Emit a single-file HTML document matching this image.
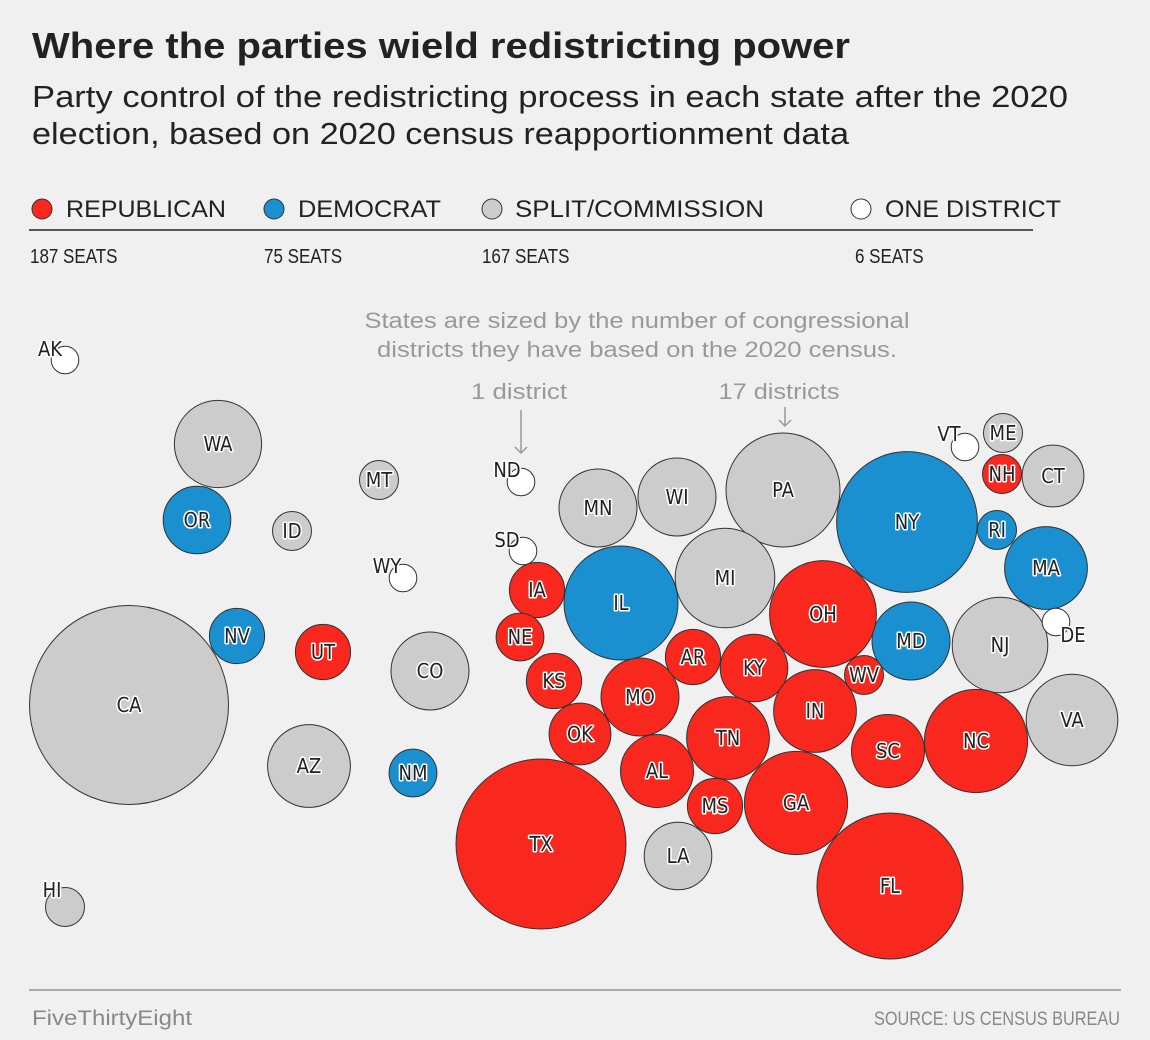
<!DOCTYPE html>
<html><head><style>
body{margin:0;background:#f0f0f0;width:1150px;height:1040px;overflow:hidden;font-family:"Liberation Sans",sans-serif;}
</style></head><body>
<svg width="1150" height="1040" xmlns="http://www.w3.org/2000/svg" style="position:absolute;left:0;top:0">
<rect width="1150" height="1040" fill="#f0f0f0"/>
<text x="32" y="58" font-size="36" font-weight="bold" fill="#222" textLength="818" lengthAdjust="spacingAndGlyphs">Where the parties wield redistricting power</text>
<text x="32" y="107" font-size="31" fill="#222" textLength="1036" lengthAdjust="spacingAndGlyphs">Party control of the redistricting process in each state after the 2020</text>
<text x="32" y="144" font-size="31" fill="#222" textLength="817" lengthAdjust="spacingAndGlyphs">election, based on 2020 census reapportionment data</text>
<g font-size="24" fill="#222">
<circle cx="42" cy="209" r="10" fill="#f9281f" stroke="#333"/><text x="66" y="217" textLength="160" lengthAdjust="spacingAndGlyphs">REPUBLICAN</text>
<circle cx="274" cy="209" r="10" fill="#1a90d0" stroke="#333"/><text x="298" y="217" textLength="143" lengthAdjust="spacingAndGlyphs">DEMOCRAT</text>
<circle cx="492" cy="209" r="10" fill="#cccccc" stroke="#333"/><text x="515" y="217" textLength="249" lengthAdjust="spacingAndGlyphs">SPLIT/COMMISSION</text>
<circle cx="861" cy="209" r="10" fill="#fff" stroke="#333"/><text x="885" y="217" textLength="176" lengthAdjust="spacingAndGlyphs">ONE DISTRICT</text>
</g>
<line x1="29" y1="230" x2="1033" y2="230" stroke="#222" stroke-width="1.5"/>
<g font-size="20" fill="#222" transform="scale(0.85,1)">
<text x="35.3" y="263">187 SEATS</text><text x="310.6" y="263">75 SEATS</text><text x="567" y="263">167 SEATS</text><text x="1005.9" y="263">6 SEATS</text>
</g>
<g font-size="22" fill="#999" text-anchor="middle">
<text x="637" y="328" textLength="545" lengthAdjust="spacingAndGlyphs">States are sized by the number of congressional</text>
<text x="637" y="357" textLength="520" lengthAdjust="spacingAndGlyphs">districts they have based on the 2020 census.</text>
<text x="519" y="399" textLength="96" lengthAdjust="spacingAndGlyphs">1 district</text>
<text x="779" y="399" textLength="121" lengthAdjust="spacingAndGlyphs">17 districts</text>
</g>
<g stroke="#999" stroke-width="1.5" fill="none">
<path d="M521 410V453M515 447l6 6 6-6"/><path d="M785 407V426M779 420l6 6 6-6"/>
</g>
<g stroke="#333" stroke-width="1">
<g fill="#cccccc">
<circle cx="218" cy="444" r="43.6"/><circle cx="292" cy="531" r="19.5"/><circle cx="379" cy="480" r="19.5"/>
<circle cx="129" cy="705" r="99.5"/><circle cx="430" cy="671" r="39"/><circle cx="309" cy="766" r="41.4"/>
<circle cx="65" cy="907" r="19.5"/><circle cx="598" cy="508" r="39"/><circle cx="677" cy="497" r="39"/>
<circle cx="783" cy="490" r="57"/><circle cx="1003" cy="433" r="19.5"/><circle cx="1053" cy="476" r="30.9"/>
<circle cx="1000" cy="645" r="47.8"/><circle cx="1072" cy="720" r="45.8"/><circle cx="725" cy="578" r="49.8"/>
<circle cx="678" cy="856" r="33.8"/>
</g>
<g fill="#1a90d0">
<circle cx="197" cy="520" r="33.8"/><circle cx="237" cy="636" r="27.6"/><circle cx="413" cy="773" r="23.9"/>
<circle cx="907" cy="522" r="70.4"/><circle cx="997" cy="530" r="19.5"/><circle cx="1046" cy="568" r="41.4"/>
<circle cx="911" cy="641" r="39"/><circle cx="621" cy="603" r="57"/>
</g>
<g fill="#f9281f">
<circle cx="323" cy="652" r="27.6"/><circle cx="1002" cy="474" r="19.5"/><circle cx="864" cy="675" r="19.5"/>
<circle cx="823" cy="614" r="53.4"/><circle cx="537" cy="590" r="27.6"/><circle cx="520" cy="637" r="23.9"/>
<circle cx="554" cy="681" r="27.6"/><circle cx="640" cy="697" r="39"/><circle cx="693" cy="657" r="27.6"/>
<circle cx="754" cy="668" r="33.8"/><circle cx="815" cy="711" r="41.4"/><circle cx="580" cy="734" r="30.9"/>
<circle cx="728" cy="738" r="41.4"/><circle cx="657" cy="771" r="36.5"/><circle cx="715" cy="806" r="27.6"/>
<circle cx="796" cy="803" r="51.6"/><circle cx="888" cy="751" r="36.5"/><circle cx="976" cy="741" r="51.6"/>
<circle cx="890" cy="886" r="73"/><circle cx="541" cy="844" r="85"/>
</g>
<g fill="#fff">
<circle cx="65" cy="360" r="13.8"/><circle cx="403" cy="578" r="13.8"/><circle cx="521" cy="482" r="13.8"/>
<circle cx="523" cy="551" r="13.8"/><circle cx="965" cy="447" r="13.8"/><circle cx="1056" cy="622" r="13.8"/>
</g>
</g>
<g font-size="20" fill="#222" text-anchor="middle" stroke="#fff" stroke-width="3" paint-order="stroke" stroke-linejoin="round" font-family="'DejaVu Sans Condensed','Liberation Sans',sans-serif">
<text x="50" y="356">AK</text><text x="52" y="897">HI</text><text x="218" y="451">WA</text><text x="197" y="527">OR</text>
<text x="292" y="538">ID</text><text x="379" y="487">MT</text><text x="387" y="573">WY</text><text x="129" y="712">CA</text>
<text x="237" y="643">NV</text><text x="323" y="659">UT</text><text x="430" y="678">CO</text><text x="309" y="773">AZ</text>
<text x="413" y="780">NM</text><text x="507" y="477">ND</text><text x="507" y="547">SD</text><text x="598" y="515">MN</text>
<text x="677" y="504">WI</text><text x="783" y="497">PA</text><text x="907" y="529">NY</text><text x="949" y="441">VT</text>
<text x="1003" y="440">ME</text><text x="1002" y="481">NH</text><text x="1053" y="483">CT</text><text x="997" y="537">RI</text>
<text x="1046" y="575">MA</text><text x="1073" y="642">DE</text><text x="1000" y="652">NJ</text><text x="1072" y="727">VA</text>
<text x="911" y="648">MD</text><text x="864" y="682">WV</text><text x="823" y="621">OH</text><text x="725" y="585">MI</text>
<text x="621" y="610">IL</text><text x="537" y="597">IA</text><text x="520" y="644">NE</text><text x="554" y="688">KS</text>
<text x="640" y="704">MO</text><text x="693" y="664">AR</text><text x="754" y="675">KY</text><text x="815" y="718">IN</text>
<text x="580" y="741">OK</text><text x="728" y="745">TN</text><text x="657" y="778">AL</text><text x="715" y="813">MS</text>
<text x="796" y="810">GA</text><text x="888" y="758">SC</text><text x="976" y="748">NC</text><text x="890" y="893">FL</text>
<text x="541" y="851">TX</text><text x="678" y="863">LA</text>
</g>
<line x1="29" y1="990" x2="1121" y2="990" stroke="#aaa" stroke-width="2"/>
<text x="32" y="1025" font-size="21" fill="#888" textLength="160" lengthAdjust="spacingAndGlyphs">FiveThirtyEight</text>
<text x="1120" y="1025" font-size="19" fill="#888" text-anchor="end" textLength="246" lengthAdjust="spacingAndGlyphs">SOURCE: US CENSUS BUREAU</text>
</svg>
</body></html>
